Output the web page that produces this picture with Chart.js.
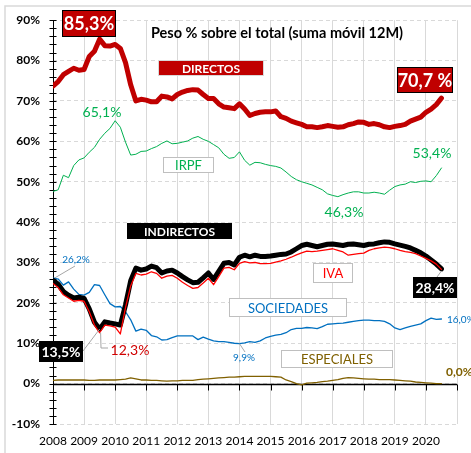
<!DOCTYPE html>
<html>
<head>
<meta charset="utf-8">
<script src="https://cdn.jsdelivr.net/npm/chart.js@4.4.1/dist/chart.umd.min.js"></script>
<style>
  html, body { margin: 0; padding: 0; background: #fff; }
  canvas { display: block; }
</style>
</head>
<body>
<canvas id="chart" width="471" height="453"></canvas>
<script>
// --- Data: peso % sobre el total, suma móvil 12M (one point every 2 months) ---
const months = [
  '2008-01','2008-03','2008-05','2008-07','2008-09','2008-11',
  '2009-01','2009-03','2009-05','2009-07','2009-09','2009-11',
  '2010-01','2010-03','2010-05','2010-07','2010-09','2010-11',
  '2011-01','2011-03','2011-05','2011-07','2011-09','2011-11',
  '2012-01','2012-03','2012-05','2012-07','2012-09','2012-11',
  '2013-01','2013-03','2013-05','2013-07','2013-09','2013-11',
  '2014-01','2014-03','2014-05','2014-07','2014-09','2014-11',
  '2015-01','2015-03','2015-05','2015-07','2015-09','2015-11',
  '2016-01','2016-03','2016-05','2016-07','2016-09','2016-11',
  '2017-01','2017-03','2017-05','2017-07','2017-09','2017-11',
  '2018-01','2018-03','2018-05','2018-07','2018-09','2018-11',
  '2019-01','2019-03','2019-05','2019-07','2019-09','2019-11',
  '2020-01','2020-03','2020-05','2020-07'
];
const yearLabels = [2008, 2009, 2010, 2011, 2012, 2013, 2014, 2015, 2016, 2017, 2018, 2019, 2020];

const directos = [
  73.7, 74.8, 76.5, 77.3, 78.1, 77.6,
  77.8, 81.0, 82.3, 85.3, 83.7, 83.6,
  84.0, 83.0, 79.5, 74.0, 70.0, 70.4,
  70.2, 69.8, 69.8, 71.2, 71.0, 70.5,
  71.6, 72.2, 72.6, 72.8, 72.7, 71.6,
  70.6, 70.6, 69.3, 68.5, 68.3, 68.1,
  69.3, 68.0, 66.4, 66.9, 67.2, 67.3,
  67.3, 67.5, 66.1, 65.7, 65.0, 64.6,
  64.2, 63.6, 63.6, 63.4, 63.6, 63.9,
  63.7, 63.5, 63.6, 64.1, 64.4, 64.8,
  64.7, 64.2, 64.4, 64.1, 63.6, 63.4,
  63.7, 63.9, 64.2, 65.0, 65.5, 66.0,
  67.2, 68.0, 69.1, 70.7
];
const irpf = [
  47.6, 48.0, 51.6, 51.0, 54.0, 55.4,
  55.9, 57.3, 58.5, 60.5, 62.0, 63.2,
  65.1, 63.5, 59.8, 56.6, 56.8, 57.5,
  57.6, 58.2, 58.7, 59.5, 60.1, 59.4,
  59.5, 59.8, 60.1, 60.8, 61.2, 60.5,
  60.0, 59.2, 58.4, 56.8, 55.8, 56.0,
  57.4, 55.3, 54.1, 54.8, 54.7, 54.3,
  54.0, 53.8, 53.4, 52.4, 51.3, 50.5,
  50.0, 49.6, 49.2, 48.6, 48.0, 47.0,
  46.6, 46.3, 46.8, 47.2, 47.5, 47.5,
  47.2, 47.2, 47.4, 47.2, 46.9, 47.9,
  48.8, 49.2, 49.4, 50.0, 49.8, 50.1,
  50.2, 50.0, 51.5, 53.4
];
const indirectos = [
  25.6, 24.6, 22.8, 21.9, 21.2, 21.4,
  21.1, 18.5, 15.2, 13.5, 15.3, 15.0,
  14.8, 14.5, 19.5, 25.5, 28.6, 28.1,
  28.4, 29.1, 28.7, 27.4, 27.9, 28.1,
  27.4, 26.5, 25.7, 25.0, 25.1, 26.2,
  27.4, 25.8, 27.8, 29.8, 30.0, 29.4,
  31.3, 31.8, 31.4, 31.8, 31.5, 31.5,
  31.6, 31.8, 32.0, 32.1, 32.6, 33.4,
  34.2, 34.5, 34.2, 33.9, 34.2, 34.5,
  34.6, 34.4, 34.2, 34.5, 34.6, 34.4,
  34.2, 34.5, 34.6, 34.9, 35.1, 35.0,
  34.6, 34.3, 34.0, 33.6, 33.0, 32.4,
  31.6, 30.6, 29.6, 28.4
];
const iva = [
  24.8, 23.8, 22.0, 21.2, 20.4, 20.6,
  20.4, 17.8, 14.5, 12.6, 14.5, 14.3,
  14.0, 12.3, 18.8, 24.2, 27.3, 26.9,
  27.1, 27.7, 27.3, 26.1, 26.6, 26.8,
  26.1, 25.1, 24.3, 23.6, 23.8, 24.9,
  26.1, 24.5, 26.5, 28.6, 28.8, 28.2,
  29.8, 30.2, 29.9, 30.0, 29.7, 29.7,
  29.8, 30.1, 30.4, 30.8, 31.3, 31.9,
  32.4, 32.8, 32.7, 32.8, 33.0, 33.2,
  33.4, 33.0, 32.6, 31.8, 32.0, 32.2,
  32.3, 33.0, 33.4, 33.6, 33.8, 33.7,
  33.4, 33.0, 32.7, 32.5, 32.2, 31.6,
  31.0, 30.4, 29.6, 28.3
];
const sociedades = [
  26.2, 25.9, 24.4, 25.2, 23.4, 22.1,
  21.9, 22.6, 24.5, 24.3, 22.0, 19.8,
  19.0, 19.1, 17.8, 15.8, 13.0, 13.5,
  13.2, 11.9, 11.6, 10.8, 10.9, 11.4,
  11.8, 11.8, 11.8, 11.8, 10.9, 11.5,
  11.0, 10.6, 10.4, 10.4, 10.2, 10.0,
  9.9, 10.1, 10.4, 10.2, 10.6, 11.3,
  11.7, 12.0, 12.2, 12.6, 13.4, 13.7,
  13.7, 13.9, 13.8, 13.6, 14.1, 14.7,
  14.8, 14.9, 15.0, 15.2, 15.4, 15.6,
  15.7, 15.7, 15.6, 15.6, 15.4, 14.8,
  13.8, 13.4, 13.8, 14.2, 14.5, 14.8,
  15.6, 16.2, 15.9, 16.0
];
const especiales = [
  0.8, 0.9, 0.9, 0.9, 0.9, 0.9,
  0.9, 0.8, 0.8, 0.9, 0.9, 0.9,
  0.9, 1.0, 1.1, 1.4, 1.2, 0.9,
  0.9, 0.8, 0.8, 0.7, 0.6, 0.7,
  0.7, 0.8, 0.8, 0.8, 1.0, 1.1,
  1.2, 1.3, 1.4, 1.5, 1.6, 1.6,
  1.7, 1.8, 1.8, 1.8, 1.8, 1.8,
  1.8, 1.7, 1.6, 0.9, 0.5, 0.0,
  -0.3, 0.1, 0.2, 0.3, 0.5, 0.6,
  0.8, 1.0, 1.3, 1.5, 1.4, 1.3,
  1.2, 1.1, 1.1, 1.0, 1.0, 1.0,
  0.9, 0.8, 0.7, 0.6, 0.4, 0.3,
  0.2, 0.1, 0.0, 0.0
];

// 'YYYY-MM' -> decimal year for the linear x axis
function toYear(m) {
  const [yy, mm] = m.split('-').map(Number);
  return yy + (mm - 1) / 12;
}
function points(values) {
  return values.map((v, i) => ({ x: toYear(months[i]), y: v }));
}

const FONT = 'Lato, "Liberation Sans", Arial, sans-serif';

// --- Annotation boxes and free labels (pixel layout) ---
const boxes = [
  { text: '85,3%', x: 62, y: 10, w: 54, h: 27, fill: '#c00000', stroke: '#000', color: '#fff', font: 'bold 18px ' + FONT },
  { text: 'DIRECTOS', x: 158, y: 60, w: 106, h: 16, fill: '#c00000', stroke: '#d9d9d9', color: '#fff', font: 'bold 12px ' + FONT },
  { text: '70,7 %', x: 397, y: 67, w: 56, h: 26, fill: '#c00000', stroke: '#000', color: '#fff', font: 'bold 18px ' + FONT },
  { text: 'IRPF', x: 163, y: 157, w: 51, h: 16, fill: '#fff', stroke: '#bfbfbf', color: '#00b050', font: '13px ' + FONT },
  { text: 'INDIRECTOS', x: 127, y: 223, w: 105, h: 16, fill: '#000', stroke: null, color: '#fff', font: 'bold 12px ' + FONT },
  { text: '13,5%', x: 39, y: 341, w: 44, h: 21, fill: '#000', stroke: null, color: '#fff', font: 'bold 14px ' + FONT },
  { text: 'IVA', x: 313, y: 263, w: 40, h: 20, fill: '#fff', stroke: '#bfbfbf', color: '#ff0000', font: '13px ' + FONT },
  { text: '28,4%', x: 413, y: 277, w: 44, h: 21, fill: '#000', stroke: null, color: '#fff', font: 'bold 14px ' + FONT },
  { text: 'SOCIEDADES', x: 229, y: 298, w: 118, h: 19, fill: '#fff', stroke: '#bfbfbf', color: '#0070c0', font: '13px ' + FONT },
  { text: 'ESPECIALES', x: 281, y: 350, w: 112, h: 18, fill: '#fff', stroke: '#bfbfbf', color: '#7f6000', font: '13px ' + FONT }
];
const notes = [
  { text: '65,1%', x: 102, y: 112, align: 'center', color: '#00b050', font: '14px ' + FONT },
  { text: '53,4%', x: 432, y: 153, align: 'center', color: '#00b050', font: '14px ' + FONT },
  { text: '46,3%', x: 344, y: 212, align: 'center', color: '#00b050', font: '14px ' + FONT },
  { text: '26,2%', x: 76, y: 260, align: 'center', color: '#0070c0', font: '10px ' + FONT },
  { text: '12,3%', x: 130, y: 350, align: 'center', color: '#d00000', font: '14px ' + FONT },
  { text: '9,9%', x: 244, y: 358, align: 'center', color: '#0070c0', font: '10px ' + FONT },
  { text: '16,0%', x: 447, y: 320, align: 'left', color: '#0070c0', font: '10px ' + FONT },
  { text: '0,0%', x: 446, y: 372, align: 'left', color: '#7f6000', font: 'bold 12px ' + FONT }
];

const overlay = {
  id: 'overlay',
  beforeDatasetsDraw(chart) {
    const { ctx, chartArea: a, scales: { x, y } } = chart;
    ctx.save();
    // vertical axis with crossing tick marks
    ctx.strokeStyle = '#000';
    ctx.lineWidth = 1;
    ctx.beginPath();
    const lx = Math.round(a.left) + 0.5;
    ctx.moveTo(lx, a.top);
    ctx.lineTo(lx, a.bottom);
    y.ticks.forEach(t => {
      const p = Math.round(y.getPixelForValue(t.value)) + 0.5;
      ctx.moveTo(lx - 4, p);
      ctx.lineTo(lx + 3, p);
    });
    ctx.stroke();
    // zero line with year ticks
    const y0 = Math.round(y.getPixelForValue(0)) + 0.5;
    ctx.lineWidth = 1.5;
    ctx.beginPath();
    ctx.moveTo(a.left, y0);
    ctx.lineTo(a.right, y0);
    ctx.stroke();
    ctx.lineWidth = 1;
    ctx.beginPath();
    x.ticks.forEach(t => {
      const p = Math.round(x.getPixelForValue(t.value)) + 0.5;
      ctx.moveTo(p, y0);
      ctx.lineTo(p, y0 + 6);
    });
    ctx.stroke();
    ctx.restore();
  },
  afterDatasetsDraw(chart) {
    const { ctx, scales: { x, y } } = chart;
    const px = i => x.getPixelForValue(toYear(months[i]));
    ctx.save();

    // leader lines
    ctx.strokeStyle = '#a6a6a6';
    ctx.lineWidth = 1;
    ctx.beginPath();
    ctx.moveTo(75, 266); ctx.lineTo(px(0) + 2, y.getPixelForValue(sociedades[0]));
    ctx.moveTo(83, 351); ctx.lineTo(px(9), y.getPixelForValue(indirectos[9]));
    ctx.moveTo(108, 348); ctx.lineTo(101, 348); ctx.lineTo(px(9) + 1, y.getPixelForValue(iva[9]));
    ctx.moveTo(437, 277); ctx.lineTo(px(75), y.getPixelForValue(indirectos[75]) + 2);
    ctx.moveTo(px(36), y.getPixelForValue(sociedades[36])); ctx.lineTo(245, 352);
    ctx.stroke();

    ctx.textBaseline = 'middle';
    boxes.forEach(b => {
      ctx.fillStyle = b.fill;
      ctx.fillRect(b.x, b.y, b.w, b.h);
      if (b.stroke) {
        ctx.strokeStyle = b.stroke;
        ctx.lineWidth = 1;
        ctx.strokeRect(b.x + 0.5, b.y + 0.5, b.w - 1, b.h - 1);
      }
      ctx.fillStyle = b.color;
      ctx.font = b.font;
      ctx.textAlign = 'center';
      ctx.fillText(b.text, b.x + b.w / 2, b.y + b.h / 2 + 1);
    });
    notes.forEach(n => {
      ctx.fillStyle = n.color;
      ctx.font = n.font;
      ctx.textAlign = n.align;
      ctx.fillText(n.text, n.x, n.y);
    });

    // title inside plot
    ctx.fillStyle = '#000';
    ctx.font = 'bold 14.5px ' + FONT;
    ctx.textAlign = 'center';
    ctx.fillText('Peso % sobre el total (suma móvil 12M)', 277, 33);
    ctx.restore();
  },
  afterDraw(chart) {
    // light chart frame
    const { ctx } = chart;
    ctx.save();
    ctx.strokeStyle = '#d9d9d9';
    ctx.lineWidth = 1.5;
    ctx.beginPath();
    ctx.moveTo(5, 453);
    ctx.lineTo(5, 6);
    ctx.lineTo(471, 6);
    ctx.stroke();
    ctx.restore();
  }
};

new Chart(document.getElementById('chart'), {
  type: 'line',
  data: {
    datasets: [
      { label: 'IVA', data: points(iva), borderColor: '#ff0000', borderWidth: 1.3, order: 1 },
      { label: 'INDIRECTOS', data: points(indirectos), borderColor: '#000', borderWidth: 5, order: 2 },
      { label: 'DIRECTOS', data: points(directos), borderColor: '#c00000', borderWidth: 5, order: 3 },
      { label: 'IRPF', data: points(irpf), borderColor: '#00b050', borderWidth: 1, order: 4 },
      { label: 'SOCIEDADES', data: points(sociedades), borderColor: '#0070c0', borderWidth: 1.3, order: 5 },
      { label: 'ESPECIALES', data: points(especiales), borderColor: '#806000', borderWidth: 1.3, order: 6 }
    ]
  },
  options: {
    responsive: false,
    animation: false,
    layout: { padding: { left: 0, right: 14, top: 18, bottom: 0 } },
    elements: {
      point: { radius: 0 },
      line: { tension: 0, fill: false, borderJoinStyle: 'round', borderCapStyle: 'round' }
    },
    plugins: {
      legend: { display: false },
      tooltip: { enabled: false }
    },
    scales: {
      x: {
        type: 'linear',
        min: 2008,
        max: 2021,
        afterFit: s => { s.height = 29; },
        ticks: {
          stepSize: 1,
          autoSkip: false,
          maxRotation: 0,
          padding: 10,
          color: '#000',
          font: { family: FONT, size: 12 },
          callback: v => yearLabels.includes(v) ? String(v) : ''
        },
        grid: { color: '#d9d9d9', drawTicks: false },
        border: { display: false }
      },
      y: {
        min: -10,
        max: 90,
        afterFit: s => { s.width = 53; },
        ticks: {
          stepSize: 2,
          maxTicksLimit: 60,
          autoSkip: false,
          padding: 13,
          color: '#000',
          font: { family: FONT, size: 12, weight: 'bold' },
          callback: v => v % 10 === 0 ? v + '%' : ''
        },
        grid: {
          color: c => (c.tick && c.tick.value % 10 === 0) ? '#d9d9d9' : 'rgba(0,0,0,0)',
          drawTicks: false
        },
        border: { display: false, dash: [4, 3] }
      }
    }
  },
  plugins: [overlay]
});
</script>
</body>
</html>
